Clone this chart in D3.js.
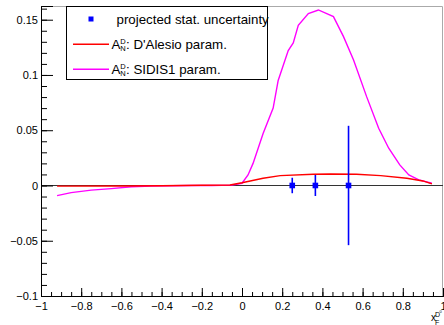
<!DOCTYPE html>
<html><head><meta charset="utf-8">
<script src="https://cdn.jsdelivr.net/npm/d3@7"></script>
<style>
body{margin:0;background:#fff;}
svg{display:block;font-family:"Liberation Sans",Arial,sans-serif;}
</style></head>
<body>
<svg id="c" width="444" height="325"></svg>
<script>
// ---- data ----
const dalesioX = [-0.92,-0.6,-0.4,-0.2,-0.06,0.0,0.105,0.19,0.355,0.44,0.57,0.69,0.82,0.9,0.945];
const dalesioY = [-0.0006,-0.0005,-0.0003,0.0002,0.0005,0.0025,0.0065,0.0089,0.0101,0.0104,0.0101,0.0089,0.0065,0.0041,0.0014];
const sidisX = [-0.92,-0.85,-0.75,-0.65,-0.55,-0.45,-0.35,-0.25,-0.15,-0.05,0.0,0.03,0.055,0.105,0.155,0.18,0.23,0.255,0.28,0.33,0.38,0.455,0.505,0.555,0.62,0.68,0.73,0.785,0.83,0.88,0.945];
const sidisY = [-0.0092,-0.0065,-0.0042,-0.0028,-0.0012,-0.0005,-0.0002,0,0,0.0003,0.002,0.0095,0.020,0.047,0.070,0.095,0.122,0.129,0.145,0.1555,0.1588,0.1528,0.1347,0.1136,0.0804,0.0518,0.0337,0.0186,0.0095,0.005,0.002];
const pointsX = [0.25,0.365,0.53];
const pointsY = [0,0,0];
const pointsErr = [0.007,0.0095,0.054];
const xTicks = [-1,-0.8,-0.6,-0.4,-0.2,0,0.2,0.4,0.6,0.8,1];
const yTicks = [-0.1,-0.05,0,0.05,0.1,0.15];
const legendLabels = ["projected stat. uncertainty", ": D'Alesio param.", ": SIDIS1 param."];

// ---- drawing ----
const svg = d3.select("#c");
const L=41,R=443,T=6,B=296;
const x = d3.scaleLinear().domain([-1,1]).range([L,R]);
const y = d3.scaleLinear().domain([-0.1,0.1624]).range([B,T]);
const fmt = v => { const s = d3.format("~g")(+v.toFixed(3)); return s.replace("-","\u2212"); };

// frame top/right
svg.append("path").attr("d",`M${L},${T+0.5}H${R-0.5}V${B}`).attr("fill","none").attr("stroke","#aaa").attr("stroke-width",1);

// zero line
svg.append("line").attr("x1",L).attr("x2",R).attr("y1",Math.round(y(0))+0.5).attr("y2",Math.round(y(0))+0.5).attr("stroke","#333").attr("stroke-width",1);

// curves
const line = d3.line().x(d=>x(d[0])).y(d=>y(d[1]));
svg.append("path").datum(sidisX.map((v,i)=>[v,sidisY[i]])).attr("d",line).attr("fill","none").attr("stroke","#ff00ff").attr("stroke-width",1.4);
svg.append("path").datum(dalesioX.map((v,i)=>[v,dalesioY[i]])).attr("d",line).attr("fill","none").attr("stroke","#ff0000").attr("stroke-width",1.4);

// error bars and markers
const pts = pointsX.map((v,i)=>({x:v,y:pointsY[i],e:pointsErr[i]}));
svg.selectAll(".eb").data(pts).enter().append("line")
  .attr("x1",d=>x(d.x)).attr("x2",d=>x(d.x)).attr("y1",d=>y(d.y-d.e)).attr("y2",d=>y(d.y+d.e))
  .attr("stroke","#0000ff").attr("stroke-width",1.6);
svg.selectAll(".mk").data(pts).enter().append("rect")
  .attr("x",d=>x(d.x)-2.8).attr("y",d=>y(d.y)-2.8).attr("width",5.6).attr("height",5.6).attr("fill","#0000ff");

// axes
svg.append("g").attr("transform",`translate(${L},0)`)
  .call(d3.axisLeft(y).tickValues(yTicks).tickSize(-12).tickPadding(3).tickFormat(fmt));
const yMinor = d3.range(-0.1,0.1601,0.01).map(v=>+v.toFixed(3));
svg.append("g").attr("transform",`translate(${L},0)`)
  .call(d3.axisLeft(y).tickValues(yMinor).tickSize(-6).tickFormat(""));
svg.append("g").attr("transform",`translate(0,${B})`)
  .call(d3.axisBottom(x).tickValues(xTicks).tickSize(-8).tickPadding(6).tickFormat(fmt));
const xMinor = d3.range(-1,1.001,0.05).map(v=>+v.toFixed(3));
svg.append("g").attr("transform",`translate(0,${B})`)
  .call(d3.axisBottom(x).tickValues(xMinor).tickSize(-4).tickFormat(""));
svg.selectAll(".domain").attr("stroke","#000");
svg.selectAll(".tick line").attr("stroke","#000");
svg.selectAll(".tick text").attr("font-size",11).attr("font-family","Liberation Sans, Arial, sans-serif").attr("fill","#000");

// x title
const xt = svg.append("g");
xt.append("text").attr("x",431).attr("y",321).attr("font-size",10).text("x");
xt.append("text").attr("x",435).attr("y",316.5).attr("font-size",7).text("D");
xt.append("text").attr("x",439.5).attr("y",313).attr("font-size",4).text("0");
xt.append("text").attr("x",435).attr("y",325).attr("font-size",7).text("F");

// legend
const lg = svg.append("g");
lg.append("rect").attr("x",66.5).attr("y",T+0.5).attr("width",201).attr("height",73).attr("fill","#fff").attr("stroke","#000").attr("stroke-width",1);
const rowY = [19,44.3,69.3];
lg.append("rect").attr("x",88.5).attr("y",rowY[0]-2.5).attr("width",5).attr("height",5).attr("fill","#0000ff");
lg.append("text").attr("x",116.5).attr("y",rowY[0]+4.7).attr("font-size",13.3).text(legendLabels[0]);
const cols = ["#ff0000","#ff00ff"];
[1,2].forEach(i=>{
  const yy=rowY[i];
  lg.append("line").attr("x1",73).attr("x2",109).attr("y1",yy).attr("y2",yy).attr("stroke",cols[i-1]).attr("stroke-width",1.4);
  lg.append("text").attr("x",111.5).attr("y",yy+4.8).attr("font-size",13.3).text("A");
  lg.append("text").attr("x",120.3).attr("y",yy-0.8).attr("font-size",7.5).text("D");
  lg.append("text").attr("x",120.3).attr("y",yy+7).attr("font-size",7.5).text("N");
  lg.append("text").attr("x",126).attr("y",yy+4.8).attr("font-size",13.3).text(legendLabels[i]);
});
</script>
</body></html>
